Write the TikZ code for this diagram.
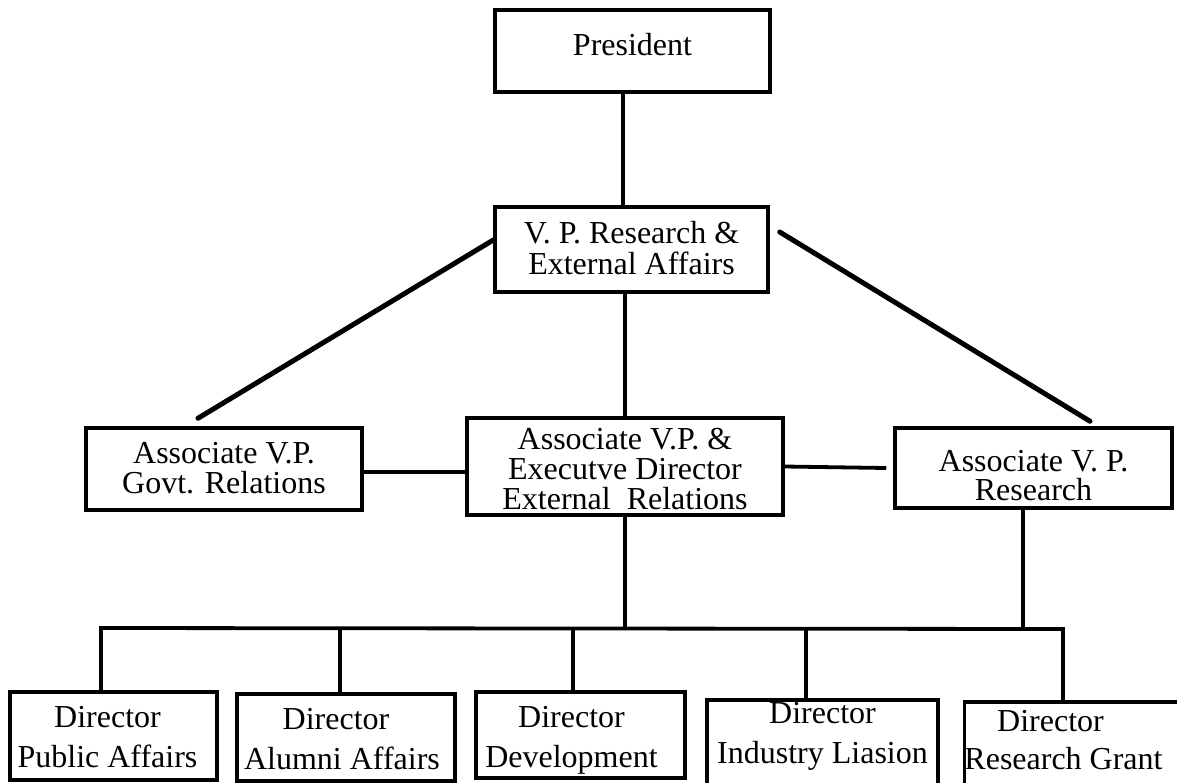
\documentclass[tikz,border=0pt]{standalone}
\usepackage{fontspec}
\setmainfont{Liberation Serif}
% struts that fix where the first and last baselines sit inside a box
\newcommand{\topgap}[1]{\rule{0pt}{#1pt}}
\newcommand{\botgap}[1]{\rule[-#1pt]{0pt}{#1pt}}
\begin{document}
\begin{tikzpicture}[x=1pt,y=-1pt,
  box/.style={draw, rectangle, line width=3.5pt, inner sep=0pt, align=center,
    font=\fontsize{32}{#1}\selectfont},
  box/.default=29,
  link/.style={line width=3.8pt},
  slant/.style={line width=5pt, line cap=round}]
\useasboundingbox (0,0) rectangle (1177,782);
\clip (0,0) rectangle (1177,782);

% top of the chart
\node[box, minimum width=275pt, minimum height=82pt] (pres) at (632.5,51)
  {\topgap{45}President\botgap{37}};
\node[box=31, minimum width=273pt, minimum height=85pt] (vp) at (631.5,249.5)
  {\topgap{36}V. P. Research \&\\External Affairs\botgap{18}};

% associate level
\node[box=30, minimum width=276pt, minimum height=82pt] (govt) at (224,469)
  {\topgap{35}Associate V.P.\\Govt. Relations\botgap{17}};
\node[box=30, minimum width=316pt, minimum height=97pt] (ext) at (625,466.5)
  {\topgap{31}Associate V.P. \&\\Executve Director\\External\ \ Relations\botgap{6}};
\node[box=29, minimum width=277pt, minimum height=80pt] (res) at (1033.5,468)
  {\topgap{43}Associate V. P.\\Research\botgap{8}};

% directors
\node[box=40, minimum width=207pt, minimum height=88pt] (pub) at (113.5,736)
  {\topgap{35}Director\hspace*{12pt}\\Public Affairs\hspace*{12pt}\botgap{13}};
\node[box=40, minimum width=218pt, minimum height=87pt] (alu) at (346,737.5)
  {\topgap{35}Director\hspace*{20pt}\\Alumni Affairs\hspace*{8pt}\botgap{12}};
\node[box=40, minimum width=209pt, minimum height=86pt] (dev) at (580.5,735)
  {\topgap{35}Director\hspace*{18pt}\\Development\hspace*{18pt}\botgap{11}};
\node[box=40, minimum width=231pt, minimum height=100pt] (ind) at (822.5,750)
  {\topgap{23}Director\\Industry Liasion\botgap{37}};
\node[box=38, minimum width=213pt, minimum height=98pt] (grant) at (1073.5,751)
  {\topgap{29}Director\hspace*{46pt}\\Research Grant\hspace*{20pt}\botgap{31}};

% the bus joining the directors
\coordinate (busL) at (101,628);
\coordinate (busR) at (1063,629);

% connectors
\draw[link] ([xshift=-9.5pt]pres.south) -- ([xshift=-8.5pt]vp.north);
\draw[slant] ([yshift=9.5pt]vp.west) -- ([xshift=-26pt,yshift=8pt]govt.north);
\draw[slant] ([xshift=10pt,yshift=17.5pt]vp.east) -- ([xshift=56.5pt,yshift=5pt]res.north);
\draw[link] ([xshift=-6.5pt]vp.south) -- (ext.north);
\draw[link] ([yshift=-3pt]govt.east) -- ([yshift=-3pt]govt.east -| ext.west);
\draw[link] (ext.east) -- ([xshift=-7pt]res.west);
\draw[link] (ext.south) -- (ext.south |- busL);
\draw[link] ([xshift=-10.5pt]res.south) -- ([xshift=-10.5pt]res.south |- busL);
\draw[link] (busL |- pub.north) -- (busL) -- (busR) -- (busR |- grant.north);
\draw[link] ([xshift=-6pt]alu.north |- busL) -- ([xshift=-6pt]alu.north);
\draw[link] ([xshift=-7.5pt]dev.north |- busL) -- ([xshift=-7.5pt]dev.north);
\draw[link] ([xshift=-16.5pt]ind.north |- busR) -- ([xshift=-16.5pt]ind.north);
\end{tikzpicture}
\end{document}
